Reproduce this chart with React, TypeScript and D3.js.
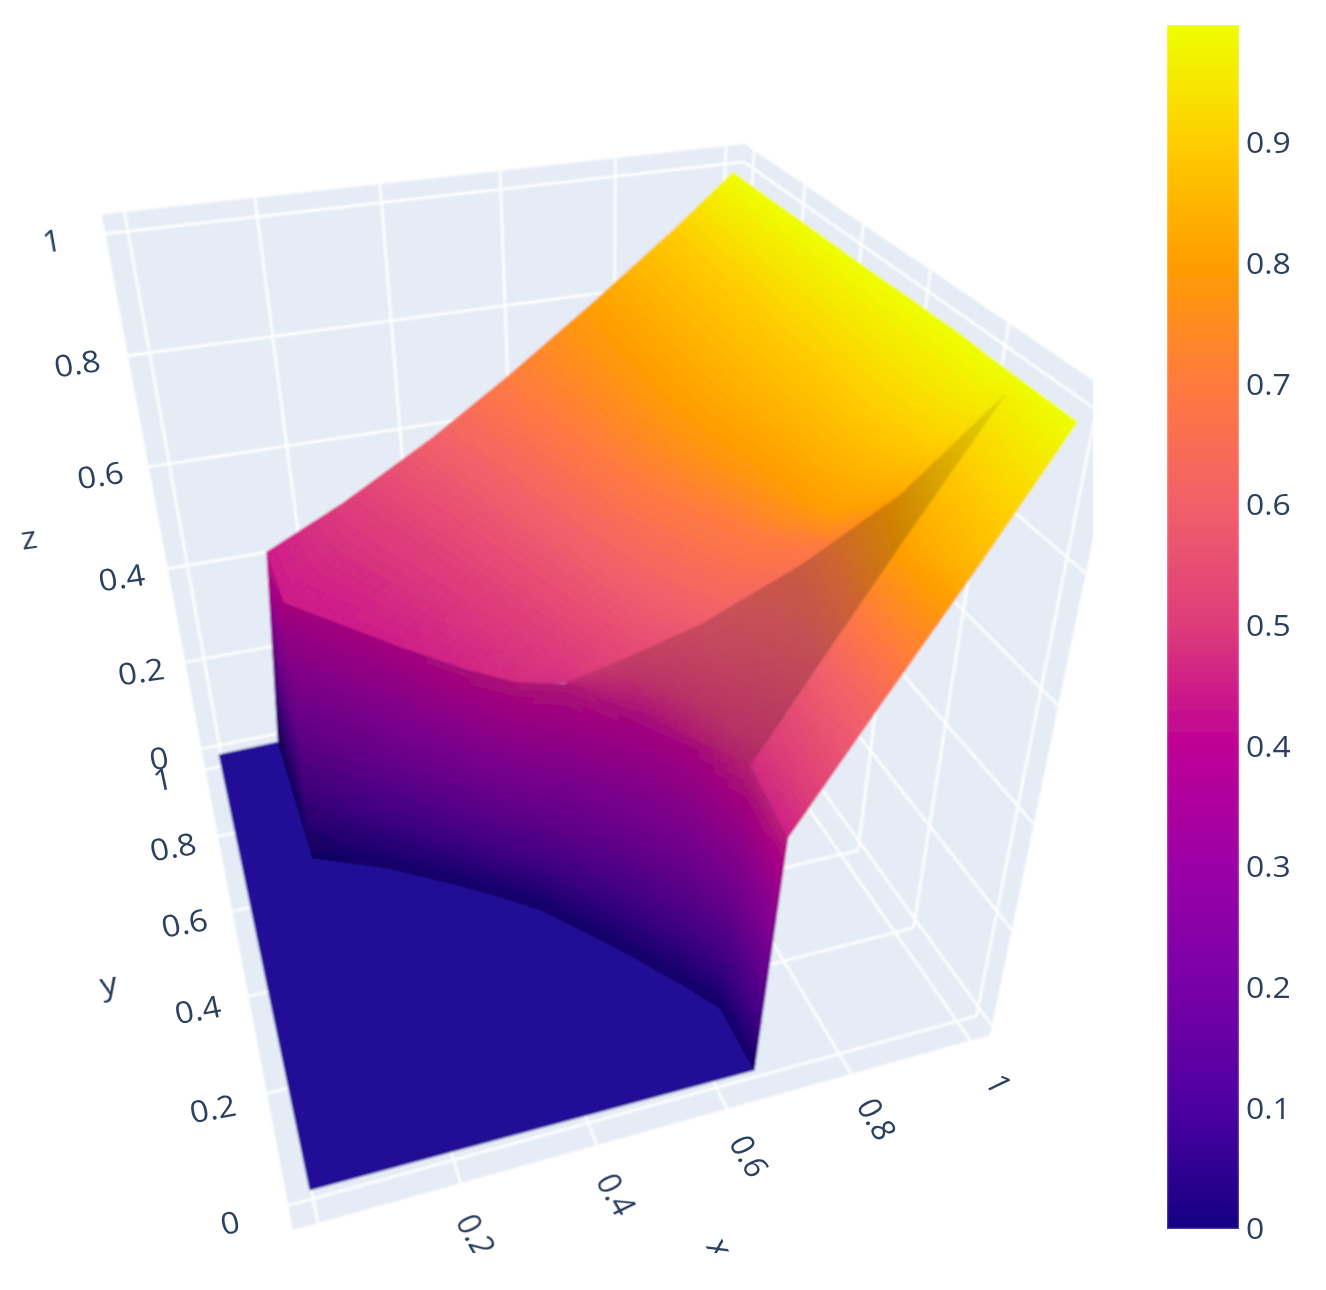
import React from "react";
import * as d3 from "d3";

const W = 1326, H = 1290;
const tickVals = [0, 0.2, 0.4, 0.6, 0.8, 1];
const tickLabels = ["0", "0.2", "0.4", "0.6", "0.8", "1"];
const cbTicks = [0, 0.1, 0.2, 0.3, 0.4, 0.5, 0.6, 0.7, 0.8, 0.9];
const cbLabels = ["0", "0.1", "0.2", "0.3", "0.4", "0.5", "0.6", "0.7", "0.8", "0.9"];
const cbStops = ["#140083", "#4c00a0", "#7800a8", "#9b00a6", "#bf0096", "#de3c7a", "#f1606a", "#ff7a3e", "#ff9d00", "#ffcd00", "#eeff00"];
const xDom = [-0.034, 1.034], yDom = [-0.04, 1.04], zDom = [-0.02, 1.03];

// Surface readings in data units (x, y, z).
const wallBaseX = [0.109, 0.116, 0.235, 0.35, 0.404, 0.456, 0.548, 0.619, 0.656, 0.658];
const wallBaseY = [1.013, 0.665, 0.598, 0.51, 0.464, 0.416, 0.292, 0.186, 0.124, -0.003];
const wallTopX = [0.134, 0.141, 0.299, 0.379, 0.44, 0.507, 0.608, 0.653, 0.678, 0.676];
const wallTopY = [0.953, 0.844, 0.651, 0.526, 0.454, 0.413, 0.326, 0.239, 0.122, -0.009];
const wallTopZ = [0.45, 0.41, 0.41, 0.43, 0.44, 0.45, 0.42, 0.43, 0.47, 0.45];
const ridgeX = [0.134, 0.137, 0.204, 0.29, 0.37, 0.429, 0.499, 0.568, 0.678, 0.82, 0.896, 0.994];
const ridgeY = [0.953, 0.796, 0.71, 0.592, 0.484, 0.413, 0.389, 0.349, 0.315, 0.298, 0.18, 0.126];
const ridgeZ = [0.45, 0.44, 0.44, 0.45, 0.46, 0.47, 0.47, 0.52, 0.58, 0.66, 0.82, 0.97];
const level5X = [0.279, 0.315, 0.361, 0.414, 0.464, 0.498, 0.525];
const level5Y = [0.99, 0.903, 0.791, 0.657, 0.535, 0.451, 0.386];
const level6X = [0.448, 0.468, 0.505, 0.544, 0.58, 0.606, 0.634, 0.654, 0.692];
const level6Y = [0.989, 0.922, 0.805, 0.67, 0.549, 0.462, 0.399, 0.358, 0.308];
const level7X = [0.58, 0.592, 0.617, 0.643, 0.671, 0.703, 0.733, 0.755, 0.776, 0.847];
const level7Y = [0.971, 0.907, 0.784, 0.647, 0.536, 0.46, 0.405, 0.363, 0.323, 0.278];
const level8X = [0.739, 0.74, 0.74, 0.738, 0.749, 0.766, 0.779, 0.789, 0.795, 0.808];
const level8Y = [0.993, 0.922, 0.779, 0.624, 0.513, 0.421, 0.358, 0.302, 0.252, 0.204];
const level9X = [0.91, 0.909, 0.907, 0.905, 0.904, 0.904, 0.903, 0.899, 0.904, 0.91, 0.914];
const level9Y = [1.038, 0.957, 0.812, 0.671, 0.559, 0.461, 0.385, 0.314, 0.266, 0.217, 0.166];
const level10X = [0.994, 0.994, 0.995, 0.996, 0.996, 0.997, 0.999, 0.999, 1.0, 0.999, 0.997, 0.997];
const level10Y = [0.993, 0.901, 0.767, 0.644, 0.544, 0.454, 0.385, 0.317, 0.266, 0.214, 0.175, 0.139];
const bandLowX = [0.507, 0.608, 0.678, 0.786, 0.843, 0.994];
const bandLowY = [0.413, 0.326, 0.122, 0.15, 0.085, 0.126];
const bandLowZ = [0.45, 0.42, 0.47, 0.6, 0.8, 0.97];
const sideInX = [0.678, 0.786, 0.843, 0.994, 0.997];
const sideInY = [0.122, 0.15, 0.085, 0.126, 0.139];
const sideInZ = [0.47, 0.6, 0.8, 0.97, 1];
const sideOutX = [0.676, 0.795, 0.863, 0.995, 0.995];
const sideOutY = [-0.009, 0, -0.065, -0.021, -0.021];
const sideOutZ = [0.45, 0.63, 0.86, 1, 1];
const flatCornerX = [-0.004, -0.002];
const flatCornerY = [1.01, 0];

// Per-vertex lighting of each face.
const wallBaseLight = [0.6, 0.72, 0.8, 0.8, 0.8, 0.8, 0.8, 0.8, 0.8, 0.8];
const wallTopLight = [0.95, 0.84, 0.84, 0.84, 0.84, 0.84, 0.84, 0.84, 0.84, 0.9];
const bandTopLight = [0.9, 0.86, 0.84, 0.8, 0.82, 0.92];
const bandLowLight = [0.84, 0.84, 0.82, 0.8, 0.8, 0.92];
const sideInLight = [0.97, 1, 1, 1, 1];

// Camera: the box corners as seen on the page give a perspective map.
type P = [number, number];
const camA: P = [293, 1230], camB: P = [990, 1035], camC: P = [203, 757], camE: P = [1122, 398], camF: P = [748, 145], camG: P = [102, 216];
function meet(a: P, b: P, c: P, d: P): P {
  const d1 = [b[0] - a[0], b[1] - a[1]], d2 = [d[0] - c[0], d[1] - c[1]];
  const den = d1[0] * d2[1] - d1[1] * d2[0];
  const t = ((c[0] - a[0]) * d2[1] - (c[1] - a[1]) * d2[0]) / den;
  return [a[0] + t * d1[0], a[1] + t * d1[1]];
}
const dist = (a: P, b: P) => Math.hypot(a[0] - b[0], a[1] - b[1]);
const Vx = meet(camA, camB, camG, camF), Vy = meet(camA, camC, camE, camF), Vz = meet(camC, camG, camB, camE);
const al = dist(camA, camB) / dist(Vx, camB);
const be = dist(camA, camC) / dist(Vy, camC);
const ga = -(((1 + al) * dist(camB, camE)) / dist(Vz, camE) + ((1 + be) * dist(camC, camG)) / dist(Vz, camG)) / 2;
const tX = d3.scaleLinear().domain(xDom).range([0, 1]);
const tY = d3.scaleLinear().domain(yDom).range([0, 1]);
const tZ = d3.scaleLinear().domain(zDom).range([0, 1]);
function project(x: number, y: number, z: number): P {
  const tx = tX(x), ty = tY(y), tz = tZ(z);
  const w = 1 + al * tx + be * ty + ga * tz;
  return [
    (camA[0] + al * tx * Vx[0] + be * ty * Vy[0] + ga * tz * Vz[0]) / w,
    (camA[1] + al * tx * Vx[1] + be * ty * Vy[1] + ga * tz * Vz[1]) / w,
  ];
}
const colorAt = d3.scaleLinear<string>().domain(d3.range(0, 11).map((i) => i / 10)).range(cbStops).clamp(true);

type V = [number, number, number, number];
const row = (xs: number[], ys: number[], zs: number[] | number, light: number[] | number = 1): V[] =>
  xs.map((x, i) => [x, ys[i], typeof zs === "number" ? zs : zs[i], typeof light === "number" ? light : light[i]] as V);
const ridge = row(ridgeX, ridgeY, ridgeZ);
const levelRow = (xs: number[], ys: number[], z: number): V[] => ridge.map((r, i) => (i < xs.length ? ([xs[i], ys[i], z, 1] as V) : r));
const sheetRows = [
  ridge,
  levelRow(level5X, level5Y, 0.5),
  levelRow(level6X, level6Y, 0.6),
  levelRow(level7X, level7Y, 0.7),
  levelRow(level8X, level8Y, 0.8),
  levelRow(level9X, level9Y, 0.9),
  levelRow(level10X, level10Y, 1),
];
const wallBase = row(wallBaseX, wallBaseY, 0, wallBaseLight);
const wallTop = row(wallTopX, wallTopY, wallTopZ, wallTopLight);
const bandTop = row(ridgeX.slice(6), ridgeY.slice(6), ridgeZ.slice(6), bandTopLight);
const bandLow = row(bandLowX, bandLowY, bandLowZ, bandLowLight);
const sideIn = row(sideInX, sideInY, sideInZ, sideInLight);
const sideOut = row(sideOutX, sideOutY, sideOutZ);

function shadeCol(z: number, s: number) {
  const c = d3.rgb(colorAt(z));
  return `rgb(${c.r * s},${c.g * s},${c.b * s})`;
}
function cells(a: V[], b: V[], nu: number, nv: number) {
  const out: { pts: string; fill: string }[] = [];
  const mix = (p: V, q: V, t: number): V => p.map((v, i) => v + (q[i] - v) * t) as V;
  for (let i = 0; i < a.length - 1; i++) {
    for (let u = 0; u < nu; u++) for (let v = 0; v < nv; v++) {
      const at = (uu: number, vv: number) => mix(mix(a[i], a[i + 1], uu), mix(b[i], b[i + 1], uu), vv);
      const q = [at(u / nu, v / nv), at((u + 1) / nu, v / nv), at((u + 1) / nu, (v + 1) / nv), at(u / nu, (v + 1) / nv)];
      const c = at((u + 0.5) / nu, (v + 0.5) / nv);
      out.push({
        pts: q.map((p) => project(p[0], p[1], p[2]).map((n) => n.toFixed(1)).join(",")).join(" "),
        fill: shadeCol(c[2], c[3]),
      });
    }
  }
  return out;
}
const polys = [
  ...sheetRows.slice(0, -1).flatMap((r, i) => cells(r, sheetRows[i + 1], 6, i === 0 ? 8 : 10)),
  ...cells(sideIn, sideOut, 24, 8),
  ...cells(bandLow, bandTop, 20, 20),
  ...cells(wallBase, wallTop, 14, 36),
];
const flatPts = [
  project(flatCornerX[0], flatCornerY[0], 0),
  ...wallBaseX.map((x, i) => project(x, wallBaseY[i], 0)),
  project(flatCornerX[1], flatCornerY[1], 0),
];

const line3 = (a: number[], b: number[]) => {
  const p = project(a[0], a[1], a[2]), q = project(b[0], b[1], b[2]);
  return { x1: p[0], y1: p[1], x2: q[0], y2: q[1] };
};
const [x0, x1] = xDom, [y0, y1] = yDom, [z0, z1] = zDom;
const walls = [
  [[x0, y0, z0], [x1, y0, z0], [x1, y1, z0], [x0, y1, z0]],
  [[x0, y1, z0], [x1, y1, z0], [x1, y1, z1], [x0, y1, z1]],
  [[x1, y0, z0], [x1, y1, z0], [x1, y1, z1], [x1, y0, z1]],
];
const grid: any[] = [];
tickVals.forEach((t) => {
  grid.push(line3([t, y0, z0], [t, y1, z0]), line3([t, y1, z0], [t, y1, z1]));
  grid.push(line3([x0, t, z0], [x1, t, z0]), line3([x1, t, z0], [x1, t, z1]));
  grid.push(line3([x0, y1, t], [x1, y1, t]), line3([x1, y0, t], [x1, y1, t]));
});
const font = "'Open Sans', sans-serif";
const txt = "#2a3f5f";
function Label({ p, s, r, fs = 30 }: { p: P; s: string; r: number; fs?: number }) {
  return <text transform={`translate(${p[0]},${p[1]}) scale(1.1,1) rotate(${r})`} textAnchor="middle" dominantBaseline="central" fontFamily={font} fontSize={fs} fill={txt}>{s}</text>;
}
const cbY = d3.scaleLinear().domain([0, 0.9]).range([1228, 142]);

export default function App() {
  return (
    <svg width={W} height={H} style={{ position: "absolute", left: 0, top: 0, background: "#fff" }}>
      <defs>
        <clipPath id="scene"><rect x={0} y={0} width={1093} height={1253} /></clipPath>
        <filter id="soft" x="-5%" y="-5%" width="110%" height="110%"><feGaussianBlur stdDeviation="0.8" /></filter>
        <filter id="softT"><feGaussianBlur stdDeviation="0.45" /></filter>
        <linearGradient id="cb" x1="0" y1="1" x2="0" y2="0">
          {cbStops.map((c, i) => <stop key={i} offset={(i / 10) / 0.9975} stopColor={c} />)}
        </linearGradient>
      </defs>
      <g clipPath="url(#scene)">
        <g filter="url(#soft)">
          {walls.map((w, i) => <polygon key={i} points={w.map((v) => project(v[0], v[1], v[2]).join(",")).join(" ")} fill="#e5ecf6" />)}
          {grid.map((g, i) => <line key={i} {...g} stroke="#fff" strokeWidth={2.6} />)}
          <polygon points={flatPts.map((p) => p.join(",")).join(" ")} fill="#210c96" stroke="#210c96" />
          {polys.map((p, i) => <polygon key={i} points={p.pts} fill={p.fill} stroke={p.fill} strokeWidth={0.8} />)}
        </g>
        <g filter="url(#softT)">
          {tickVals.map((t, i) => <Label key={"z" + i} p={project(x0 - 0.08, y1, t)} s={tickLabels[i]} r={-9} />)}
          {tickVals.map((t, i) => <Label key={"y" + i} p={project(x0 - 0.08, t, z0)} s={tickLabels[i]} r={-11} />)}
          {tickVals.map((t, i) => (t > 0 ? <Label key={"x" + i} p={project(t, y0 - 0.085, z0)} s={tickLabels[i]} r={62} /> : null))}
          <Label p={project(x0 - 0.215, y1, 0.505)} s="z" r={-9} fs={31} />
          <Label p={project(x0 - 0.21, 0.5, z0)} s="y" r={-11} fs={31} />
          <Label p={project(0.505, y0 - 0.206, z0)} s="x" r={62} fs={31} />
        </g>
      </g>
      <g filter="url(#softT)">
        <rect x={1167} y={25} width={72} height={1204} fill="url(#cb)" />
        <rect x={1167.5} y={25.5} width={71} height={1203} fill="none" stroke="#fff" strokeOpacity={0.22} strokeWidth={1.5} />
        {cbTicks.map((t, i) => <text key={i} transform={`translate(1246,${cbY(t)}) scale(1.1,1)`} dominantBaseline="central" fontFamily={font} fontSize={29} fill={txt}>{cbLabels[i]}</text>)}
      </g>
    </svg>
  );
}
